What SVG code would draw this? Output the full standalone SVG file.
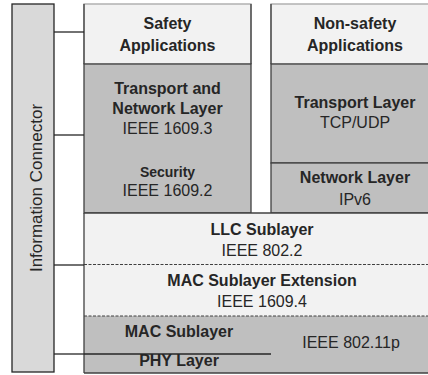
<svg xmlns="http://www.w3.org/2000/svg" width="428" height="375" viewBox="0 0 428 375">
<style>
.b{font-family:"Liberation Sans",Arial,sans-serif;font-weight:bold;font-size:16px;fill:#262626;text-anchor:middle}
.r{font-family:"Liberation Sans",Arial,sans-serif;font-size:16px;fill:#262626;text-anchor:middle}
.lt{fill:#f2f2f2;stroke:#404040;stroke-width:1.3}
.gr{fill:#bfbfbf;stroke:#404040;stroke-width:1.3}
.ln{stroke:#262626;stroke-width:1.3;fill:none}
.ds{stroke:#404040;stroke-width:1;stroke-dasharray:3 1.5;fill:none}
</style>
<rect width="428" height="375" fill="#ffffff"/>
<g id="info-connector">
<rect x="12" y="4" width="42" height="368" fill="#d9d9d9" stroke="#262626" stroke-width="1.3"/>
<text class="r" transform="translate(42,188) rotate(-90)" style="font-size:17px">Information Connector</text>
</g>
<g id="safety-apps">
<rect class="lt" x="84" y="4" width="167" height="60" style="stroke:#a6a6a6"/>
<line class="ln" x1="84" y1="4" x2="84" y2="64" style="stroke:#404040"/>
<line class="ln" x1="251" y1="4" x2="251" y2="64" style="stroke:#404040"/>
<text class="b" x="167.5" y="29">Safety</text>
<text class="b" x="167.5" y="51">Applications</text>
</g>
<g id="transport-network-security">
<rect class="gr" x="84" y="64" width="167" height="149"/>
<text class="b" x="167.5" y="94">Transport and</text>
<text class="b" x="167.5" y="114">Network Layer</text>
<text class="r" x="167.5" y="134">IEEE 1609.3</text>
<text class="b" x="167.5" y="177" style="font-size:14px">Security</text>
<text class="r" x="167.5" y="196">IEEE 1609.2</text>
</g>
<g id="non-safety-apps">
<rect class="lt" x="271" y="4" width="170" height="60" style="stroke:#a6a6a6"/>
<line class="ln" x1="271" y1="4" x2="271" y2="64" style="stroke:#404040"/>
<text class="b" x="355" y="29">Non-safety</text>
<text class="b" x="355" y="51">Applications</text>
</g>
<g id="transport-layer">
<rect class="gr" x="271" y="64" width="170" height="99"/>
<text class="b" x="355" y="108">Transport Layer</text>
<text class="r" x="355" y="128">TCP/UDP</text>
</g>
<g id="network-layer">
<rect class="gr" x="271" y="163" width="170" height="50"/>
<text class="b" x="355" y="183">Network Layer</text>
<text class="r" x="355" y="205">IPv6</text>
</g>
<g id="llc-sublayer">
<rect x="84" y="213" width="357" height="52" fill="#f2f2f2"/>
<text class="b" x="262" y="235">LLC Sublayer</text>
<text class="r" x="262" y="256">IEEE 802.2</text>
</g>
<g id="mac-extension">
<rect x="84" y="265" width="357" height="51" fill="#f2f2f2"/>
<text class="b" x="262" y="286">MAC Sublayer Extension</text>
<text class="r" x="262" y="307">IEEE 1609.4</text>
</g>
<g id="mac-phy">
<rect x="84" y="316" width="357" height="57" fill="#bfbfbf"/>
<text class="b" x="179" y="337">MAC Sublayer</text>
<text class="b" x="179" y="366">PHY Layer</text>
<text class="r" x="351" y="348">IEEE 802.11p</text>
</g>
<g id="borders">
<line class="ln" x1="84" y1="213" x2="441" y2="213" style="stroke:#404040"/>
<line class="ln" x1="84" y1="213" x2="84" y2="373" style="stroke:#404040"/>
<line class="ds" x1="84" y1="264.5" x2="441" y2="264.5"/>
<line class="ds" x1="84" y1="316" x2="441" y2="316"/>
<line class="ln" x1="84" y1="373" x2="441" y2="373" style="stroke:#404040"/>
<line class="ln" x1="84" y1="354" x2="271" y2="354"/>
</g>
<g id="connectors">
<line class="ln" x1="54" y1="32" x2="84" y2="32"/>
<line class="ln" x1="54" y1="135" x2="84" y2="135"/>
<line class="ln" x1="54" y1="265" x2="84" y2="265"/>
<line class="ln" x1="54" y1="354" x2="84" y2="354"/>
</g>
</svg>
